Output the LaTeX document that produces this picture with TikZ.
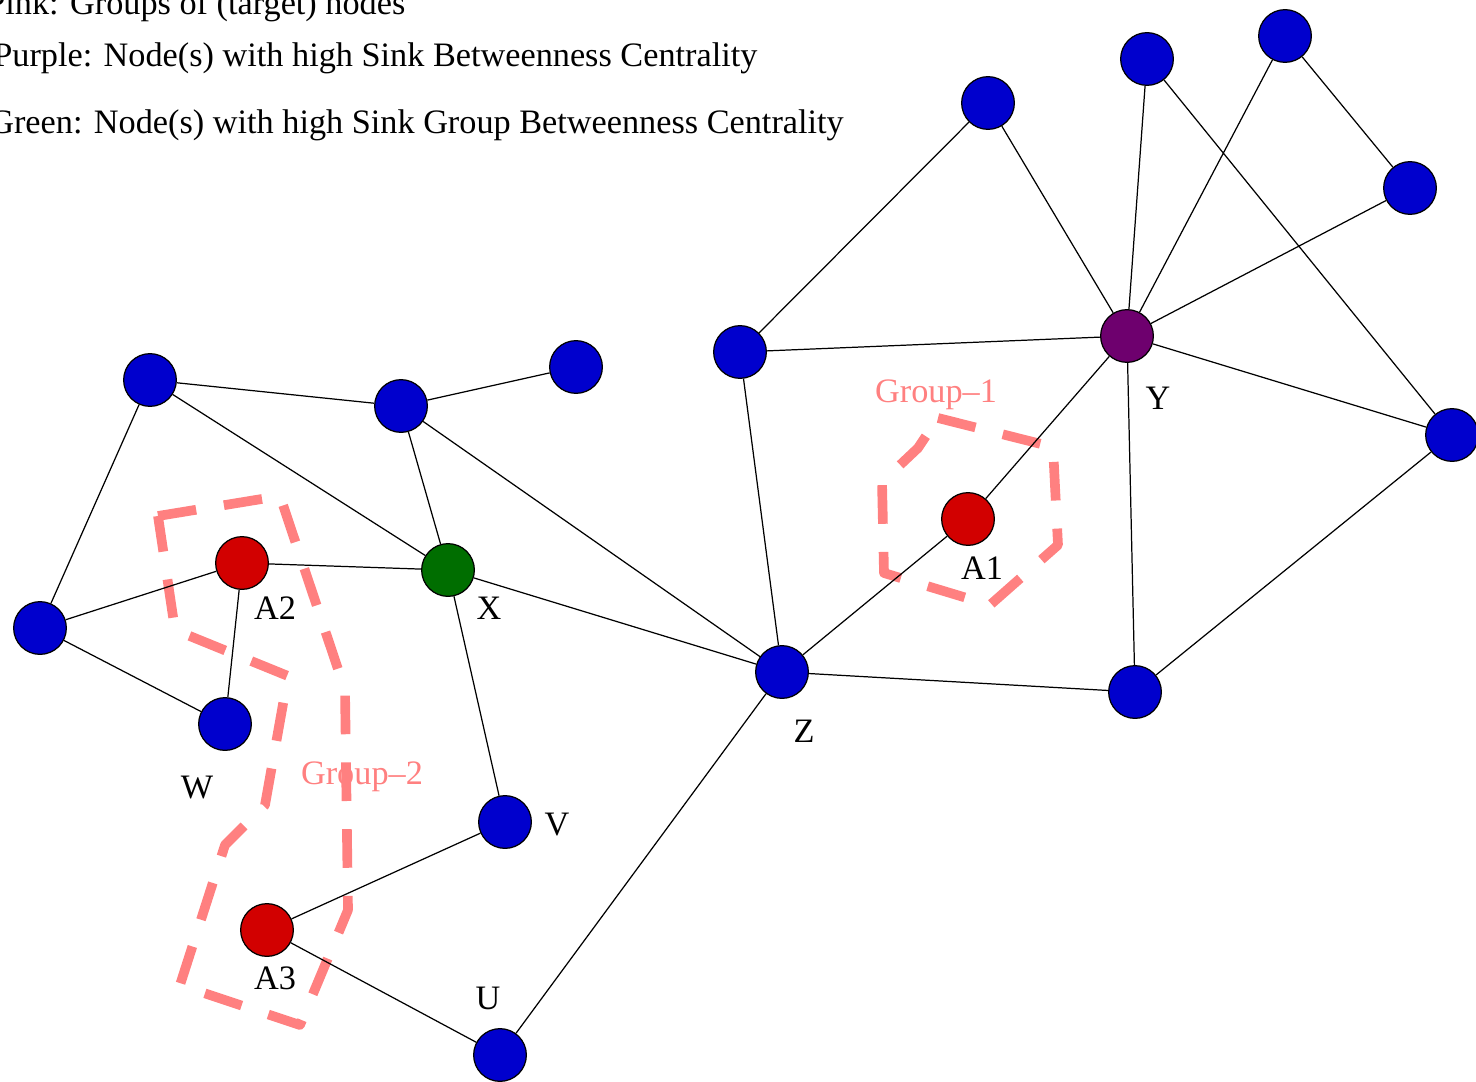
\documentclass[tikz,border=0pt]{standalone}
\usepackage{fontspec}
\setmainfont{Liberation Serif}
\definecolor{nblue}{RGB}{0,0,205}
\definecolor{nred}{RGB}{210,0,0}
\definecolor{ngreen}{RGB}{0,110,0}
\definecolor{npurple}{RGB}{110,0,110}
\definecolor{gpink}{RGB}{255,128,128}
\tikzset{
  vtx/.style={circle,draw=black,line width=0.7pt,minimum size=30pt,inner sep=0pt},
  bl/.style={vtx,fill=nblue},
  rd/.style={vtx,fill=nred},
  gr/.style={vtx,fill=ngreen},
  pu/.style={vtx,fill=npurple},
  edge/.style={draw=black,line width=0.7pt},
  lbl/.style={font=\fontsize{19.5}{23}\selectfont,inner sep=0pt},
  glbl/.style={lbl,text=gpink},
  hull/.style={draw=gpink,line width=5.5pt,dash pattern=on 22pt off 16pt,line join=round},
  legend/.style={font=\fontsize{19.5}{23}\selectfont,anchor=base west,inner sep=0pt}
}
\begin{document}
\begin{tikzpicture}[x=0.02cm,y=-0.02cm]
\useasboundingbox (0,0) rectangle (1476,1081);
% legend (cut at the left and top edge, as in the reference)
\node[legend] (t1) at (-14,15) {Pink: Groups of (target) nodes};
\node[legend] (t2) at (-7,67) {Purple: Node(s) with high Sink Betweenness Centrality};
\node[legend] (t3) at (-11,134) {Green: Node(s) with high Sink Group Betweenness Centrality};
% group hulls
\draw[hull] (938,418) -- (1053,447) -- (1058,545) -- (990,605) -- (884,573) -- (882,482) -- (918,448) -- cycle;
\draw[hull] (158,516) -- (280,496) -- (345,690) -- (348,910) -- (300,1025) -- (180,985) -- (225,845) -- (265,805) -- (288,676) -- (175,630) -- cycle;
% nodes
\node[bl] (n1) at (988,103) {};
\node[bl] (n2) at (1147,59) {};
\node[bl] (n3) at (1285,36) {};
\node[bl] (n4) at (1410,188) {};
\node[pu] (Y) at (1127,336) {};
\node[bl] (n5) at (740,352) {};
\node[bl] (n6) at (1452,435) {};
\node[rd] (A1) at (968,519) {};
\node[bl] (n7) at (1135,692) {};
\node[bl] (Z) at (782,672) {};
\node[bl] (n8) at (150,380) {};
\node[bl] (n9) at (401,406) {};
\node[bl] (n10) at (576,367) {};
\node[rd] (A2) at (242,563) {};
\node[gr] (X) at (448,570) {};
\node[bl] (n11) at (40,628) {};
\node[bl] (W) at (225,724) {};
\node[bl] (V) at (505,822) {};
\node[rd] (A3) at (267,930) {};
\node[bl] (U) at (500,1055) {};
% edges
\path[edge] (n1) -- (n5) (n1) -- (Y)
  (n2) -- (Y) (n2) -- (n6)
  (n3) -- (Y) (n3) -- (n4)
  (n4) -- (Y)
  (n5) -- (Y) (n5) -- (Z)
  (Y) -- (n6) (Y) -- (n7) (Y) -- (A1)
  (A1) -- (Z)
  (n6) -- (n7)
  (Z) -- (n7) (Z) -- (U) (Z) -- (X) (Z) -- (n9)
  (n8) -- (n9) (n8) -- (X) (n8) -- (n11)
  (n9) -- (n10) (n9) -- (X)
  (A2) -- (X) (A2) -- (n11) (A2) -- (W)
  (n11) -- (W)
  (X) -- (V)
  (V) -- (A3)
  (A3) -- (U);
% labels
\node[lbl] (lA1) at (982,568) {A1};
\node[lbl] (lY) at (1158,398) {Y};
\node[lbl] (lZ) at (804,731) {Z};
\node[lbl] (lA2) at (275,608) {A2};
\node[lbl] (lX) at (489,608) {X};
\node[lbl] (lW) at (197,788) {W};
\node[lbl] (lV) at (557,825) {V};
\node[lbl] (lA3) at (275,978) {A3};
\node[lbl] (lU) at (488,998) {U};
\node[glbl] (g1) at (936,395) {Group--1};
\node[glbl] (g2) at (362,777) {Group--2};
\end{tikzpicture}
\end{document}
